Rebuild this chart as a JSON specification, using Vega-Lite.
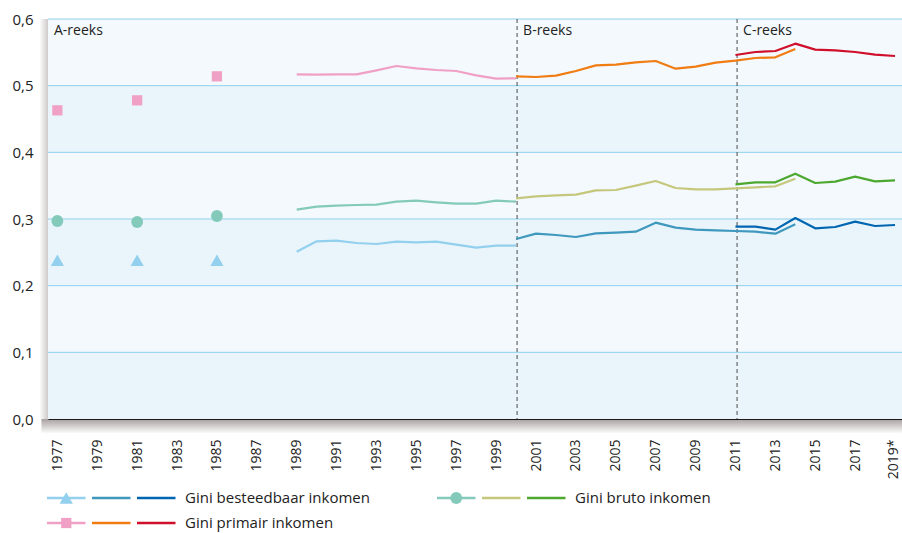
{
  "$schema": "https://vega.github.io/schema/vega-lite/v6.json",
  "width": 854,
  "height": 400,
  "autosize": "none",
  "padding": {"left": 48, "top": 19, "right": 0, "bottom": 114},
  "background": "#ffffff",
  "config": {
    "font": "Open Sans",
    "view": {"fill": "#f4f9fd", "stroke": null},
    "legend": {"disable": true},
    "axisX": {"grid": false, "tickSize": 0, "ticks": false, "domainColor": "#1a1a1a", "domainWidth": 1.2, "labelAngle": 270, "labelPadding": 20, "labelFontSize": 14, "labelColor": "#222222", "title": null, "labelOverlap": false},
    "axisY": {"grid": false, "tickSize": 0, "ticks": false, "domain": false, "labelPadding": 15, "labelFontSize": 15, "labelColor": "#222222", "title": null}
  },
  "datasets": {
    "bands": [{"lo": 0.0, "hi": 0.1}, {"lo": 0.2, "hi": 0.3}, {"lo": 0.4, "hi": 0.5}],
    "grid": [{"v": 0.1}, {"v": 0.2}, {"v": 0.3}, {"v": 0.4}, {"v": 0.5}, {"v": 0.6}],
    "reeks": [{"reeks": "A-reeks", "start": 1976.53}, {"reeks": "B-reeks", "start": 2000.05}, {"reeks": "C-reeks", "start": 2011.08}],
    "pts": [
      {"year": 1977, "value": 0.238, "series": "besteedbaar A", "grp": "besteedbaar"},
      {"year": 1981, "value": 0.238, "series": "besteedbaar A", "grp": "besteedbaar"},
      {"year": 1985, "value": 0.238, "series": "besteedbaar A", "grp": "besteedbaar"},
      {"year": 1977, "value": 0.297, "series": "bruto A", "grp": "bruto"},
      {"year": 1981, "value": 0.2955, "series": "bruto A", "grp": "bruto"},
      {"year": 1985, "value": 0.3045, "series": "bruto A", "grp": "bruto"},
      {"year": 1977, "value": 0.463, "series": "primair A", "grp": "primair"},
      {"year": 1981, "value": 0.478, "series": "primair A", "grp": "primair"},
      {"year": 1985, "value": 0.514, "series": "primair A", "grp": "primair"}
    ],
    "lines": [
      {"year": 1989, "value": 0.251, "series": "besteedbaar A"},
      {"year": 1990, "value": 0.2665, "series": "besteedbaar A"},
      {"year": 1991, "value": 0.2675, "series": "besteedbaar A"},
      {"year": 1992, "value": 0.264, "series": "besteedbaar A"},
      {"year": 1993, "value": 0.2625, "series": "besteedbaar A"},
      {"year": 1994, "value": 0.266, "series": "besteedbaar A"},
      {"year": 1995, "value": 0.265, "series": "besteedbaar A"},
      {"year": 1996, "value": 0.266, "series": "besteedbaar A"},
      {"year": 1997, "value": 0.2615, "series": "besteedbaar A"},
      {"year": 1998, "value": 0.257, "series": "besteedbaar A"},
      {"year": 1999, "value": 0.26, "series": "besteedbaar A"},
      {"year": 2000, "value": 0.26, "series": "besteedbaar A"},
      {"year": 1989, "value": 0.314, "series": "bruto A"},
      {"year": 1990, "value": 0.3185, "series": "bruto A"},
      {"year": 1991, "value": 0.32, "series": "bruto A"},
      {"year": 1992, "value": 0.321, "series": "bruto A"},
      {"year": 1993, "value": 0.3215, "series": "bruto A"},
      {"year": 1994, "value": 0.326, "series": "bruto A"},
      {"year": 1995, "value": 0.3275, "series": "bruto A"},
      {"year": 1996, "value": 0.325, "series": "bruto A"},
      {"year": 1997, "value": 0.323, "series": "bruto A"},
      {"year": 1998, "value": 0.323, "series": "bruto A"},
      {"year": 1999, "value": 0.3275, "series": "bruto A"},
      {"year": 2000, "value": 0.326, "series": "bruto A"},
      {"year": 1989, "value": 0.517, "series": "primair A"},
      {"year": 1990, "value": 0.5165, "series": "primair A"},
      {"year": 1991, "value": 0.517, "series": "primair A"},
      {"year": 1992, "value": 0.517, "series": "primair A"},
      {"year": 1993, "value": 0.523, "series": "primair A"},
      {"year": 1994, "value": 0.5295, "series": "primair A"},
      {"year": 1995, "value": 0.526, "series": "primair A"},
      {"year": 1996, "value": 0.5235, "series": "primair A"},
      {"year": 1997, "value": 0.522, "series": "primair A"},
      {"year": 1998, "value": 0.5155, "series": "primair A"},
      {"year": 1999, "value": 0.5105, "series": "primair A"},
      {"year": 2000, "value": 0.511, "series": "primair A"},
      {"year": 2000, "value": 0.27, "series": "besteedbaar B"},
      {"year": 2001, "value": 0.278, "series": "besteedbaar B"},
      {"year": 2002, "value": 0.276, "series": "besteedbaar B"},
      {"year": 2003, "value": 0.273, "series": "besteedbaar B"},
      {"year": 2004, "value": 0.2785, "series": "besteedbaar B"},
      {"year": 2005, "value": 0.2795, "series": "besteedbaar B"},
      {"year": 2006, "value": 0.281, "series": "besteedbaar B"},
      {"year": 2007, "value": 0.2945, "series": "besteedbaar B"},
      {"year": 2008, "value": 0.287, "series": "besteedbaar B"},
      {"year": 2009, "value": 0.284, "series": "besteedbaar B"},
      {"year": 2010, "value": 0.283, "series": "besteedbaar B"},
      {"year": 2011, "value": 0.282, "series": "besteedbaar B"},
      {"year": 2012, "value": 0.281, "series": "besteedbaar B"},
      {"year": 2013, "value": 0.278, "series": "besteedbaar B"},
      {"year": 2014, "value": 0.292, "series": "besteedbaar B"},
      {"year": 2000, "value": 0.331, "series": "bruto B"},
      {"year": 2001, "value": 0.334, "series": "bruto B"},
      {"year": 2002, "value": 0.3355, "series": "bruto B"},
      {"year": 2003, "value": 0.3365, "series": "bruto B"},
      {"year": 2004, "value": 0.343, "series": "bruto B"},
      {"year": 2005, "value": 0.3435, "series": "bruto B"},
      {"year": 2006, "value": 0.35, "series": "bruto B"},
      {"year": 2007, "value": 0.357, "series": "bruto B"},
      {"year": 2008, "value": 0.3465, "series": "bruto B"},
      {"year": 2009, "value": 0.3445, "series": "bruto B"},
      {"year": 2010, "value": 0.3445, "series": "bruto B"},
      {"year": 2011, "value": 0.346, "series": "bruto B"},
      {"year": 2012, "value": 0.3475, "series": "bruto B"},
      {"year": 2013, "value": 0.349, "series": "bruto B"},
      {"year": 2014, "value": 0.3605, "series": "bruto B"},
      {"year": 2000, "value": 0.514, "series": "primair B"},
      {"year": 2001, "value": 0.513, "series": "primair B"},
      {"year": 2002, "value": 0.515, "series": "primair B"},
      {"year": 2003, "value": 0.522, "series": "primair B"},
      {"year": 2004, "value": 0.5305, "series": "primair B"},
      {"year": 2005, "value": 0.5315, "series": "primair B"},
      {"year": 2006, "value": 0.535, "series": "primair B"},
      {"year": 2007, "value": 0.537, "series": "primair B"},
      {"year": 2008, "value": 0.5255, "series": "primair B"},
      {"year": 2009, "value": 0.5285, "series": "primair B"},
      {"year": 2010, "value": 0.5345, "series": "primair B"},
      {"year": 2011, "value": 0.5375, "series": "primair B"},
      {"year": 2012, "value": 0.5415, "series": "primair B"},
      {"year": 2013, "value": 0.5425, "series": "primair B"},
      {"year": 2014, "value": 0.555, "series": "primair B"},
      {"year": 2011, "value": 0.2885, "series": "besteedbaar C"},
      {"year": 2012, "value": 0.2885, "series": "besteedbaar C"},
      {"year": 2013, "value": 0.284, "series": "besteedbaar C"},
      {"year": 2014, "value": 0.3015, "series": "besteedbaar C"},
      {"year": 2015, "value": 0.286, "series": "besteedbaar C"},
      {"year": 2016, "value": 0.288, "series": "besteedbaar C"},
      {"year": 2017, "value": 0.296, "series": "besteedbaar C"},
      {"year": 2018, "value": 0.2895, "series": "besteedbaar C"},
      {"year": 2019, "value": 0.291, "series": "besteedbaar C"},
      {"year": 2011, "value": 0.352, "series": "bruto C"},
      {"year": 2012, "value": 0.355, "series": "bruto C"},
      {"year": 2013, "value": 0.355, "series": "bruto C"},
      {"year": 2014, "value": 0.368, "series": "bruto C"},
      {"year": 2015, "value": 0.354, "series": "bruto C"},
      {"year": 2016, "value": 0.356, "series": "bruto C"},
      {"year": 2017, "value": 0.3635, "series": "bruto C"},
      {"year": 2018, "value": 0.3565, "series": "bruto C"},
      {"year": 2019, "value": 0.358, "series": "bruto C"},
      {"year": 2011, "value": 0.546, "series": "primair C"},
      {"year": 2012, "value": 0.5505, "series": "primair C"},
      {"year": 2013, "value": 0.552, "series": "primair C"},
      {"year": 2014, "value": 0.563, "series": "primair C"},
      {"year": 2015, "value": 0.554, "series": "primair C"},
      {"year": 2016, "value": 0.553, "series": "primair C"},
      {"year": 2017, "value": 0.5505, "series": "primair C"},
      {"year": 2018, "value": 0.5465, "series": "primair C"},
      {"year": 2019, "value": 0.5445, "series": "primair C"}
    ],
    "leg": [
      {"label": "Gini besteedbaar inkomen", "col": 1, "seg": "A", "series": "besteedbaar A", "grp": "besteedbaar"},
      {"label": "Gini besteedbaar inkomen", "col": 1, "seg": "B", "series": "besteedbaar B", "grp": "besteedbaar"},
      {"label": "Gini besteedbaar inkomen", "col": 1, "seg": "C", "series": "besteedbaar C", "grp": "besteedbaar"},
      {"label": "Gini primair inkomen", "col": 1, "seg": "A", "series": "primair A", "grp": "primair"},
      {"label": "Gini primair inkomen", "col": 1, "seg": "B", "series": "primair B", "grp": "primair"},
      {"label": "Gini primair inkomen", "col": 1, "seg": "C", "series": "primair C", "grp": "primair"},
      {"label": "Gini bruto inkomen", "col": 2, "seg": "A", "series": "bruto A", "grp": "bruto"},
      {"label": "Gini bruto inkomen", "col": 2, "seg": "B", "series": "bruto B", "grp": "bruto"},
      {"label": "Gini bruto inkomen", "col": 2, "seg": "C", "series": "bruto C", "grp": "bruto"}
    ]
  },
  "layer": [
    {
      "layer": [
        {
          "data": {"name": "bands"},
          "mark": {"type": "rect", "fill": "#eaf5fb"},
          "encoding": {
            "y": {"field": "lo", "type": "quantitative", "title": null, "scale": {"domain": [0, 0.6], "nice": false, "zero": false}},
            "y2": {"field": "hi"}
          }
        },
        {
          "data": {"values": [{}]},
          "mark": {"type": "rect", "fill": {"gradient": "linear", "x1": 0, "y1": 0, "x2": 0, "y2": 1, "stops": [{"offset": 0, "color": "#a8a0a0"}, {"offset": 1, "color": "#ffffff"}]}},
          "encoding": {
            "x": {"datum": 1976.2, "type": "quantitative"},
            "x2": {"datum": 2019.35},
            "y": {"datum": 0, "type": "quantitative"},
            "y2": {"datum": -0.022}
          }
        },
        {
          "data": {"values": [{}]},
          "mark": {"type": "rect", "fill": {"gradient": "linear", "x1": 0, "y1": 0, "x2": 1, "y2": 0, "stops": [{"offset": 0, "color": "#ffffff"}, {"offset": 1, "color": "#cfcaca"}]}},
          "encoding": {
            "x": {"datum": 1976.1, "type": "quantitative"},
            "x2": {"datum": 1976.53},
            "y": {"datum": 0, "type": "quantitative"},
            "y2": {"datum": 0.6}
          }
        },
        {
          "data": {"name": "grid"},
          "mark": {"type": "rule", "color": "#8fd0ee", "strokeWidth": 1},
          "encoding": {
            "y": {"field": "v", "type": "quantitative", "title": null}
          }
        },
        {
          "data": {"name": "reeks"},
          "transform": [{"filter": "datum.reeks != 'A-reeks'"}],
          "mark": {"type": "rule", "color": "#4a4a4a", "strokeWidth": 1, "strokeDash": [4, 3]},
          "encoding": {
            "x": {"field": "start", "type": "quantitative", "title": null}
          }
        },
        {
          "data": {"name": "reeks"},
          "mark": {"type": "text", "align": "left", "baseline": "middle", "dx": 6, "dy": 12, "fontSize": 14, "color": "#222222"},
          "encoding": {
            "x": {"field": "start", "type": "quantitative", "title": null},
            "y": {"datum": 0.6, "type": "quantitative"},
            "text": {"field": "reeks"}
          }
        },
        {
          "data": {"name": "lines"},
          "mark": {"type": "line", "strokeWidth": 2.2, "strokeJoin": "round"},
          "encoding": {
            "x": {
              "field": "year", "type": "quantitative", "title": null,
              "scale": {"domain": [1976.53, 2019.35], "nice": false, "zero": false},
              "axis": {"values": [1977, 1979, 1981, 1983, 1985, 1987, 1989, 1991, 1993, 1995, 1997, 1999, 2001, 2003, 2005, 2007, 2009, 2011, 2013, 2015, 2017, 2019], "format": "d", "labelExpr": "datum.value == 2019 ? '2019*' : datum.label", "labelOffset": {"condition": {"test": "datum.value == 2019", "value": -2}, "value": 0}, "zindex": 1}
            },
            "y": {
              "field": "value", "type": "quantitative", "title": null,
              "axis": {"values": [0, 0.1, 0.2, 0.3, 0.4, 0.5, 0.6], "labelExpr": "replace(format(datum.value, '.1f'), '.', ',')"}
            },
            "color": {
              "field": "series", "type": "nominal",
              "scale": {
                "domain": ["besteedbaar A", "besteedbaar B", "besteedbaar C", "bruto A", "bruto B", "bruto C", "primair A", "primair B", "primair C"],
                "range": ["#92d0ee", "#3f98bd", "#0066b2", "#84cabb", "#c5c77c", "#4ca82f", "#f0a0c5", "#f07c12", "#d0102a"]
              }
            }
          }
        },
        {
          "data": {"name": "pts"},
          "mark": {"type": "point", "filled": true, "opacity": 1},
          "encoding": {
            "x": {"field": "year", "type": "quantitative", "title": null},
            "y": {"field": "value", "type": "quantitative", "title": null},
            "color": {"field": "series", "type": "nominal"},
            "shape": {"field": "grp", "type": "nominal", "scale": {"domain": ["besteedbaar", "bruto", "primair"], "range": ["triangle-up", "circle", "square"]}},
            "size": {"field": "grp", "type": "nominal", "scale": {"domain": ["besteedbaar", "bruto", "primair"], "range": [175, 105, 120]}}
          }
        }
      ]
    },
    {
      "data": {"name": "leg"},
      "transform": [{"filter": "datum.col == 1"}],
      "encoding": {
        "y": {"field": "label", "type": "nominal", "axis": null, "scale": {"type": "band", "domain": ["Gini besteedbaar inkomen", "Gini primair inkomen"], "range": [466.5, 516.5], "paddingInner": 0, "paddingOuter": 0}}
      },
      "layer": [
        {
          "mark": {"type": "rect", "height": 2.5},
          "encoding": {
            "x": {"field": "seg", "type": "nominal", "axis": null, "scale": {"type": "band", "domain": ["A", "B", "C", "T"], "range": [-1, 172.5], "paddingInner": 0.1444, "paddingOuter": 0}},
            "color": {"field": "series", "type": "nominal"}
          }
        },
        {
          "transform": [{"filter": "datum.seg == 'A'"}],
          "mark": {"type": "point", "filled": true, "opacity": 1},
          "encoding": {
            "x": {"field": "seg", "type": "nominal", "axis": null},
            "color": {"field": "series", "type": "nominal"},
            "shape": {"field": "grp", "type": "nominal"},
            "size": {"field": "grp", "type": "nominal"}
          }
        },
        {
          "transform": [{"filter": "datum.seg == 'A'"}],
          "mark": {"type": "text", "align": "left", "baseline": "middle", "dx": 3, "fontSize": 15, "color": "#222222"},
          "encoding": {
            "x": {"datum": "T", "type": "nominal", "bandPosition": 0, "axis": null},
            "text": {"field": "label"}
          }
        }
      ]
    },
    {
      "data": {"name": "leg"},
      "transform": [{"filter": "datum.col == 2"}],
      "encoding": {
        "y": {"field": "label", "type": "nominal", "axis": null, "scale": {"type": "band", "domain": ["Gini bruto inkomen"], "range": [466.5, 491.5], "paddingInner": 0, "paddingOuter": 0}}
      },
      "layer": [
        {
          "mark": {"type": "rect", "height": 2.5},
          "encoding": {
            "x": {"field": "seg", "type": "nominal", "axis": null, "scale": {"type": "band", "domain": ["A", "B", "C", "T"], "range": [389, 562.5], "paddingInner": 0.1444, "paddingOuter": 0}},
            "color": {"field": "series", "type": "nominal"}
          }
        },
        {
          "transform": [{"filter": "datum.seg == 'A'"}],
          "mark": {"type": "point", "filled": true, "opacity": 1},
          "encoding": {
            "x": {"field": "seg", "type": "nominal", "axis": null},
            "color": {"field": "series", "type": "nominal"},
            "shape": {"field": "grp", "type": "nominal"},
            "size": {"field": "grp", "type": "nominal"}
          }
        },
        {
          "transform": [{"filter": "datum.seg == 'A'"}],
          "mark": {"type": "text", "align": "left", "baseline": "middle", "dx": 3, "fontSize": 15, "color": "#222222"},
          "encoding": {
            "x": {"datum": "T", "type": "nominal", "bandPosition": 0, "axis": null},
            "text": {"field": "label"}
          }
        }
      ]
    }
  ],
  "resolve": {"scale": {"x": "independent", "y": "independent"}}
}
